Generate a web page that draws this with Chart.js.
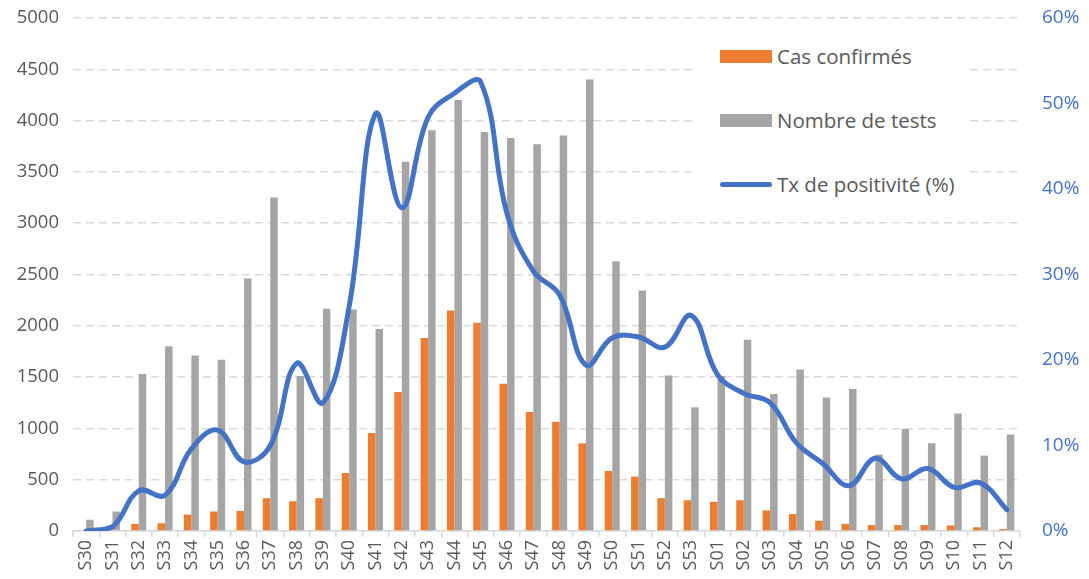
<!DOCTYPE html>
<html>
<head>
<meta charset="utf-8">
<script src="https://cdn.jsdelivr.net/npm/chart.js@4"></script>
<style>
  html, body { margin: 0; padding: 0; background: #fff; }
  #wrap { position: relative; width: 1089px; height: 579px; overflow: hidden; }
  #legende {
    position: absolute; left: 697px; top: 32px; width: 273px; height: 178px;
    background: #fff; font-family: "Open Sans", sans-serif; font-size: 20.5px; color: #595959;
  }
  .item { position: absolute; left: 23px; height: 26px; display: flex; align-items: center; white-space: nowrap; }
  .item span.m { display: inline-block; width: 52px; margin-right: 5px; }
</style>
</head>
<body>
<div id="wrap">
  <canvas id="graphique" width="1089" height="579"></canvas>
  <div id="legende"></div>
</div>
<script>
var semaines = ["S30","S31","S32","S33","S34","S35","S36","S37","S38","S39","S40","S41","S42","S43","S44","S45","S46","S47","S48","S49","S50","S51","S52","S53","S01","S02","S03","S04","S05","S06","S07","S08","S09","S10","S11","S12"];
var casConfirmes = [0, 5, 70, 75, 160, 190, 195, 320, 290, 320, 565, 955, 1355, 1880, 2150, 2030, 1435, 1160, 1065, 855, 585, 530, 320, 300, 285, 300, 200, 165, 100, 70, 58, 58, 58, 54, 36, 20];
var nbTests = [110, 190, 1530, 1800, 1710, 1670, 2460, 3250, 1510, 2165, 2160, 1970, 3600, 3905, 4200, 3890, 3830, 3770, 3855, 4400, 2630, 2345, 1515, 1205, 1510, 1865, 1335, 1575, 1300, 1385, 745, 995, 855, 1145, 735, 940];
var txPositivite = [0, 0.5, 4.7, 4.2, 9.6, 11.8, 8.1, 10.0, 19.6, 15.0, 26.3, 48.8, 37.8, 48.4, 51.2, 52.5, 37.1, 30.4, 27.6, 19.4, 22.6, 22.7, 21.5, 25.2, 18.3, 16.1, 15.0, 10.3, 7.9, 5.3, 8.5, 6.1, 7.3, 5.1, 5.6, 2.5];
var nomsSeries = ["Cas confirmés", "Nombre de tests", "Tx de positivité (%)"];

var orange = "#ED7D31";
var gris = "#A5A5A5";
var bleu = "#4472C4";
var police = "'Open Sans', sans-serif";

const data = {
    labels: semaines,
    datasets: [{
        type: 'line',
        label: nomsSeries[2],
        data: txPositivite,
        borderColor: bleu,
        borderWidth: 5,
        borderCapStyle: 'round',
        pointRadius: 0,
        tension: 0.4,
        yAxisID: 'y2',
        order: 0
    }, {
        label: nomsSeries[0],
        data: casConfirmes,
        backgroundColor: orange,
        categoryPercentage: 0.57,
        barPercentage: 1,
        yAxisID: 'y',
        order: 1
    }, {
        label: nomsSeries[1],
        data: nbTests,
        backgroundColor: gris,
        categoryPercentage: 0.57,
        barPercentage: 1,
        yAxisID: 'y',
        order: 2
    }]
};

const config = {
    type: 'bar',
    data: data,
    options: {
        responsive: false,
        animation: false,
        layout: { padding: { top: 18, left: 0, right: 0, bottom: 0 } },
        plugins: { legend: { display: false }, tooltip: { enabled: false } },
        scales: {
            x: {
                grid: { drawOnChartArea: false, color: '#D9D9D9', tickLength: 6, lineWidth: 1.5 },
                border: { color: '#D9D9D9', width: 1.5 },
                ticks: { color: '#595959', font: { family: police, size: 18 }, maxRotation: 90, minRotation: 90, autoSkip: false, padding: 3 },
                afterFit: function (s) { s.height = 48; s.paddingLeft = 0; s.paddingRight = 0; }
            },
            y: {
                position: 'left',
                min: 0, max: 5000,
                ticks: { stepSize: 500, color: '#595959', font: { family: police, size: 18.5 }, padding: 14,
                    callback: function (v) { return String(v); } },
                grid: { color: '#D9D9D9', lineWidth: 1.5, drawTicks: false },
                border: { display: false, dash: [8, 5] },
                afterFit: function (s) { s.width = 73; s.paddingTop = 0; s.paddingBottom = 0; }
            },
            y2: {
                position: 'right',
                min: 0, max: 60,
                ticks: { stepSize: 10, color: bleu, font: { family: police, size: 19 }, padding: 22,
                    callback: function (v) { return v + '%'; } },
                grid: { drawOnChartArea: false, drawTicks: false },
                border: { display: false },
                afterFit: function (s) { s.width = 69; s.paddingTop = 0; s.paddingBottom = 0; }
            }
        }
    }
};

var monGraphique = new Chart(document.getElementById('graphique'), config);

// légende posée dans le graphique, comme dans Excel
var legende = document.getElementById('legende');
var couleurs = [orange, gris, bleu];
var hauts = [11, 75, 139];
for (var i = 0; i < nomsSeries.length; i++) {
    var item = document.createElement('div');
    item.className = 'item';
    item.style.top = hauts[i] + 'px';
    var m = document.createElement('span');
    m.className = 'm';
    m.style.background = couleurs[i];
    m.style.height = (i == 2) ? '5px' : '13px';
    if (i == 2) m.style.borderRadius = '3px';
    item.append(m);
    var t = document.createElement('span');
    t.textContent = nomsSeries[i];
    item.append(t);
    legende.append(item);
}
</script>
</body>
</html>
